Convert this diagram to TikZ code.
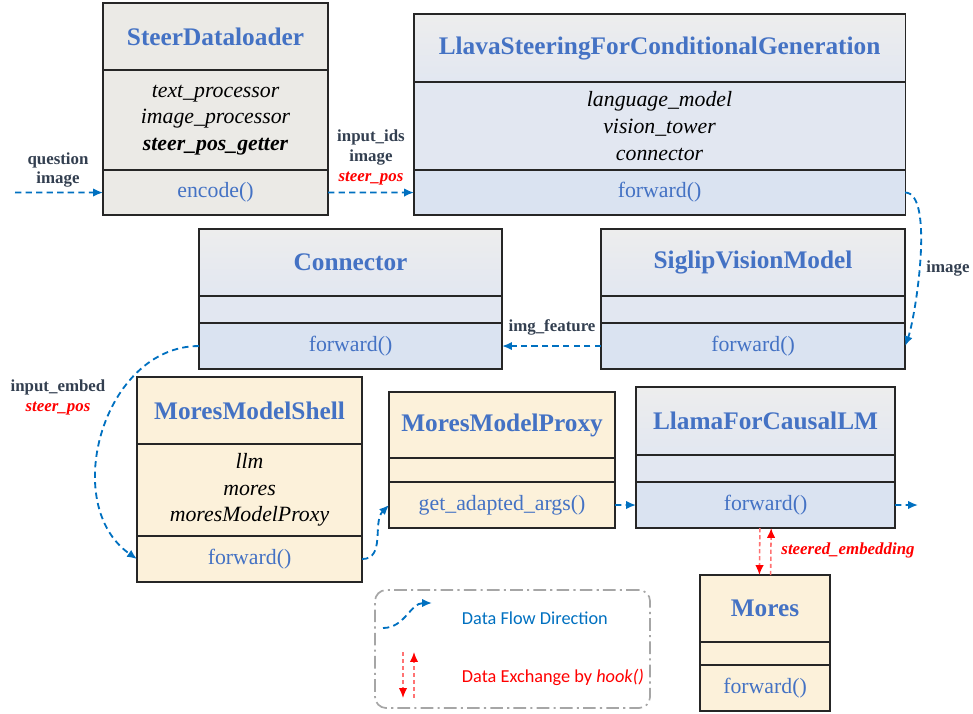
\documentclass[tikz,border=0pt]{standalone}
\usepackage{fontspec}
\setmainfont{Liberation Serif}
\newfontfamily\legendfont{Carlito}
\usetikzlibrary{arrows.meta}

\definecolor{titleblue}{HTML}{4472C4}
\definecolor{flowblue}{HTML}{0070C0}
\definecolor{labelgray}{HTML}{333F50}
\definecolor{hookred}{HTML}{FF0000}
\definecolor{paper}{HTML}{EBEAE6}
\definecolor{cream}{HTML}{FCF1DA}
\definecolor{paleblue}{HTML}{DAE3F1}
\definecolor{midblue}{HTML}{E2E7F1}
\definecolor{legendgray}{HTML}{A6A6A6}

\tikzset{
	part/.style={draw=black!85, line width=0.9pt, inner sep=0pt, outer sep=0pt, anchor=north west, align=center},
	titlepart/.style={part, font=\fontsize{18}{21}\selectfont\bfseries, text=titleblue},
	attrpart/.style={part, font=\fontsize{15.5}{19}\selectfont\itshape},
	methpart/.style={part, font=\fontsize{15.5}{18}\selectfont, text=titleblue},
	greybox/.style={fill=paper},
	bluetitle/.style={top color=black!7, bottom color=midblue},
	bluebody/.style={fill=midblue},
	bluemeth/.style={fill=paleblue},
	creambox/.style={fill=cream},
	flow/.style={draw=flowblue, line width=1.3pt, dash pattern=on 4.5pt off 3pt, -{Latex[length=7pt,width=6pt]}},
	hook/.style={draw=hookred!55, line width=1.1pt, dash pattern=on 3pt off 2pt, -{Latex[length=7pt,width=6pt,color=hookred]}},
	flowlabel/.style={font=\fontsize{12}{14.2}\selectfont\bfseries, text=labelgray, align=center},
	hooklabel/.style={font=\fontsize{12}{14}\selectfont\bfseries\itshape, text=hookred},
}

\begin{document}
\begin{tikzpicture}[x=0.025cm, y=-0.025cm]
	\useasboundingbox (0,0) rectangle (973,713);

	% SteerDataloader
	\node[titlepart, greybox, minimum width=5.625cm, minimum height=1.675cm] (dl-t) at (103,3) {SteerDataloader};
	\node[attrpart, greybox, minimum width=5.625cm, minimum height=2.5cm] (dl-a) at (dl-t.south west)
		{text\_processor\\image\_processor\\\textbf{steer\_pos\_getter}};
	\node[methpart, greybox, minimum width=5.625cm, minimum height=1.125cm] (dl-m) at (dl-a.south west) {encode()};

	% LlavaSteeringForConditionalGeneration
	\node[titlepart, bluetitle, minimum width=12.275cm, minimum height=1.7cm] (llava-t) at (414,14) {LlavaSteeringForConditionalGeneration};
	\node[attrpart, bluebody, minimum width=12.275cm, minimum height=2.2cm] (llava-a) at (llava-t.south west)
		{language\_model\\vision\_tower\\connector};
	\node[methpart, bluemeth, minimum width=12.275cm, minimum height=1.125cm] (llava-m) at (llava-a.south west) {forward()};

	% Connector
	\node[titlepart, bluetitle, minimum width=7.575cm, minimum height=1.675cm] (conn-t) at (199,229) {Connector};
	\node[part, bluebody, minimum width=7.575cm, minimum height=0.675cm] (conn-a) at (conn-t.south west) {};
	\node[methpart, bluemeth, minimum width=7.575cm, minimum height=1.15cm] (conn-m) at (conn-a.south west) {forward()};

	% SiglipVisionModel
	\node[titlepart, bluetitle, minimum width=7.6cm, minimum height=1.675cm] (siglip-t) at (601,229) {SiglipVisionModel};
	\node[part, bluebody, minimum width=7.6cm, minimum height=0.675cm] (siglip-a) at (siglip-t.south west) {};
	\node[methpart, bluemeth, minimum width=7.6cm, minimum height=1.15cm] (siglip-m) at (siglip-a.south west) {forward()};

	% MoresModelShell
	\node[titlepart, creambox, minimum width=5.625cm, minimum height=1.675cm] (shell-t) at (137,377) {MoresModelShell};
	\node[attrpart, creambox, minimum width=5.625cm, minimum height=2.3cm] (shell-a) at (shell-t.south west)
		{llm\\mores\\moresModelProxy};
	\node[methpart, creambox, minimum width=5.625cm, minimum height=1.15cm] (shell-m) at (shell-a.south west) {forward()};

	% MoresModelProxy
	\node[titlepart, creambox, minimum width=5.65cm, minimum height=1.65cm] (proxy-t) at (389,392) {MoresModelProxy};
	\node[part, creambox, minimum width=5.65cm, minimum height=0.6cm] (proxy-a) at (proxy-t.south west) {};
	\node[methpart, creambox, minimum width=5.65cm, minimum height=1.15cm] (proxy-m) at (proxy-a.south west) {get\_adapted\_args()};

	% LlamaForCausalLM
	\node[titlepart, bluetitle, minimum width=6.475cm, minimum height=1.7cm] (llama-t) at (636,387) {LlamaForCausalLM};
	\node[part, bluebody, minimum width=6.475cm, minimum height=0.675cm] (llama-a) at (llama-t.south west) {};
	\node[methpart, bluemeth, minimum width=6.475cm, minimum height=1.15cm] (llama-m) at (llama-a.south west) {forward()};

	% Mores
	\node[titlepart, creambox, minimum width=3.25cm, minimum height=1.675cm] (mores-t) at (700,575) {Mores};
	\node[part, creambox, minimum width=3.25cm, minimum height=0.575cm] (mores-a) at (mores-t.south west) {};
	\node[methpart, creambox, minimum width=3.25cm, minimum height=1.15cm] (mores-m) at (mores-a.south west) {forward()};

	% labels
	\node[flowlabel] (q-lbl) at (58,170) {question\\image};
	\node[flowlabel] (ids-lbl) at (371,157) {input\_ids\\image\\\textcolor{hookred}{\itshape steer\_pos}};
	\node[flowlabel] (img-lbl) at (948,268) {image};
	\node[flowlabel] (feat-lbl) at (552,327) {img\_feature};
	\node[flowlabel] (emb-lbl) at (58,397) {input\_embed\\\textcolor{hookred}{\itshape steer\_pos}};
	\node[hooklabel] (steer-lbl) at (848,550) {steered\_embedding};

	\coordinate (in-start) at (15,192.5);
	\coordinate (out-end) at (918,505);

	% data flow
	\draw[flow] (in-start) -- (dl-m.west);
	\draw[flow] (dl-m.east) -- (llava-m.west);
	\draw[flow] (llava-m.east) to[out=0, in=70, looseness=0.5] (siglip-m.east);
	\draw[flow] (siglip-m.west) -- (conn-m.east);
	\draw[flow] (conn-m.west) to[out=180, in=145, looseness=1.1] (shell-m.west);
	\draw[flow] (shell-m.east) to[out=0, in=225] (proxy-m.west);
	\draw[flow] (proxy-m.east) -- (llama-m.west);
	\draw[flow] (llama-m.east) -- (out-end);

	% hook exchange
	\draw[hook] ([xshift=-4pt]llama-m.south) -- ([xshift=-4pt]mores-t.north);
	\draw[hook] ([xshift=4pt]mores-t.north) -- ([xshift=4pt]llama-m.south);

	% legend
	\node[part, draw=legendgray, line width=1.2pt, rounded corners=8pt, dash pattern=on 9pt off 3pt on 1.5pt off 3pt,
		minimum width=6.875cm, minimum height=2.95cm] (legend) at (375,590) {};
	\coordinate (lg-a) at (383,628);
	\coordinate (lg-b) at (432,603);
	\draw[flow] (lg-a) to[out=0, in=180] (lg-b);
	\node[anchor=west, font=\legendfont\fontsize{13}{15}\selectfont, text=flowblue] (lg-flow) at (457,618) {Data Flow Direction};
	\coordinate (lh-top) at (403,652);
	\coordinate (lh-bot) at (403,698);
	\coordinate (lu-top) at (414,652);
	\coordinate (lu-bot) at (414,698);
	\draw[hook] (lh-top) -- (lh-bot);
	\draw[hook] (lu-bot) -- (lu-top);
	\node[anchor=west, font=\legendfont\fontsize{13}{15}\selectfont, text=hookred] (lg-hook) at (457,677) {Data Exchange by \textit{hook()}};
\end{tikzpicture}
\end{document}
